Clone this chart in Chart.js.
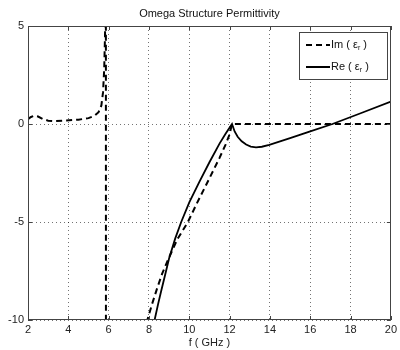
<!DOCTYPE html>
<html>
<head>
<meta charset="utf-8">
<script src="https://cdn.jsdelivr.net/npm/chart.js@4/dist/chart.umd.min.js"></script>
<style>
html,body{margin:0;padding:0;background:#fff;}
canvas{display:block;}
</style>
</head>
<body>
<canvas id="c" width="400" height="350"></canvas>
<script>
// ---- data ----
const chartTitle = "Omega Structure Permittivity";
const xAxisTitle = "f ( GHz )";
const xTicks = [2, 4, 6, 8, 10, 12, 14, 16, 18, 20];
const yTicks = [-10, -5, 0, 5];

const imFreq   = [2.0, 2.15, 2.3, 2.5, 2.75, 3.0, 3.3, 3.9, 4.5, 5.0, 5.3, 5.5, 5.64, 5.72, 5.78, 5.82, 5.85, 5.86, 5.87, 7.6, 7.92, 8.15, 8.4, 8.65, 8.94, 9.4, 9.93, 10.4, 10.84, 11.5, 11.8, 11.99, 12.12, 14, 16, 18, 20];
const imValues = [0.25, 0.36, 0.42, 0.38, 0.25, 0.17, 0.15, 0.18, 0.22, 0.3, 0.42, 0.6, 0.95, 1.6, 2.8, 4.5, 8, 30, -40, -12, -10, -9.2, -8.4, -7.65, -6.94, -5.9, -5.0, -4.0, -3.1, -1.73, -1.05, -0.55, 0, 0, 0, 0, 0];

const reFreq   = [8.1, 8.28, 8.45, 8.6, 8.8, 9.0, 9.3, 9.6, 10.0, 10.5, 11.0, 11.5, 11.8, 12.12, 12.25, 12.4, 12.6, 12.82, 13.05, 13.31, 13.6, 13.97, 15.0, 16.0, 17.1, 18.5, 20];
const reValues = [-11, -10, -9.2, -8.55, -7.7, -6.85, -5.85, -5.0, -4.0, -2.95, -1.95, -1.0, -0.5, 0, -0.38, -0.65, -0.88, -1.05, -1.15, -1.19, -1.16, -1.07, -0.72, -0.38, 0, 0.55, 1.14];

const imLabel = ["Im ( ", "\u03B5", "r", " )"];
const reLabel = ["Re ( ", "\u03B5", "r", " )"];

const toPts = (xs, ys) => xs.map((x, i) => ({x: x, y: ys[i]}));

const FONT = "'Liberation Sans', Arial, sans-serif";

const framePlugin = {
  id: 'frame',
  afterDatasetsDraw(chart) {
    const {ctx, chartArea: a, scales} = chart;
    ctx.save();
    ctx.strokeStyle = '#444';
    ctx.lineWidth = 1;
    ctx.setLineDash([]);
    ctx.strokeRect(Math.round(a.left) + 0.5, Math.round(a.top) + 0.5,
                   Math.round(a.right - a.left) - 1, Math.round(a.bottom - a.top) - 1);
    ctx.beginPath();
    xTicks.forEach(v => {
      const px = Math.round(scales.x.getPixelForValue(v)) + 0.5;
      ctx.moveTo(px, a.bottom); ctx.lineTo(px, a.bottom - 4);
      ctx.moveTo(px, a.top); ctx.lineTo(px, a.top + 4);
    });
    yTicks.forEach(v => {
      const py = Math.round(scales.y.getPixelForValue(v)) + 0.5;
      ctx.moveTo(a.left, py); ctx.lineTo(a.left + 4, py);
      ctx.moveTo(a.right, py); ctx.lineTo(a.right - 4, py);
    });
    ctx.stroke();

    ctx.fillStyle = '#111';
    ctx.font = '11px ' + FONT;
    ctx.textAlign = 'center';
    ctx.textBaseline = 'middle';
    ctx.fillText(chartTitle, (a.left + a.right) / 2, 14);

    const lx = 299, ly = 32, lw = 89, lh = 48;
    ctx.fillStyle = '#fff';
    ctx.fillRect(lx, ly, lw, lh);
    ctx.strokeStyle = '#444';
    ctx.strokeRect(lx + 0.5, ly + 0.5, lw - 1, lh - 1);
    const rows = [
      {label: imLabel, dash: [6, 4], y: ly + 13},
      {label: reLabel, dash: [], y: ly + 35}
    ];
    rows.forEach(r => {
      ctx.strokeStyle = '#000';
      ctx.lineWidth = 2;
      ctx.setLineDash(r.dash);
      ctx.beginPath();
      ctx.moveTo(306, r.y); ctx.lineTo(330, r.y);
      ctx.stroke();
      ctx.setLineDash([]);
      ctx.fillStyle = '#111';
      ctx.textAlign = 'left';
      ctx.textBaseline = 'middle';
      let tx = 331;
      ctx.font = '11px ' + FONT;
      ctx.fillText(r.label[0], tx, r.y); tx += ctx.measureText(r.label[0]).width;
      ctx.fillText(r.label[1], tx, r.y); tx += ctx.measureText(r.label[1]).width;
      ctx.font = '7px ' + FONT;
      ctx.fillText(r.label[2], tx, r.y + 3); tx += ctx.measureText(r.label[2]).width;
      ctx.font = '11px ' + FONT;
      ctx.fillText(r.label[3], tx, r.y);
    });
    ctx.restore();
  }
};

new Chart(document.getElementById('c'), {
  type: 'line',
  data: {
    datasets: [
      {
        label: 'Im',
        data: toPts(imFreq, imValues),
        borderColor: '#000',
        borderWidth: 2,
        borderDash: [6, 4],
        pointRadius: 0,
        fill: false,
        tension: 0
      },
      {
        label: 'Re',
        data: toPts(reFreq, reValues),
        borderColor: '#000',
        borderWidth: 1.8,
        pointRadius: 0,
        fill: false,
        tension: 0
      }
    ]
  },
  options: {
    responsive: false,
    animation: false,
    devicePixelRatio: 1,
    layout: {padding: {top: 26, right: 8, left: 0, bottom: 0}},
    plugins: {legend: {display: false}, title: {display: false}, tooltip: {enabled: false}},
    scales: {
      x: {
        type: 'linear', min: 2, max: 20,
        afterFit(s) { s.height = 30; },
        afterBuildTicks(s) { s.ticks = xTicks.map(v => ({value: v})); },
        grid: {color: 'rgba(0,0,0,0.55)', drawTicks: false, lineWidth: 1},
        border: {display: false, dash: [1, 3]},
        ticks: {color: '#222', font: {family: FONT, size: 11}, padding: 3, maxRotation: 0},
        title: {display: true, text: xAxisTitle, color: '#222', font: {family: FONT, size: 11}, padding: 0}
      },
      y: {
        type: 'linear', min: -10, max: 5,
        afterFit(s) { s.width = 28; },
        afterBuildTicks(s) { s.ticks = yTicks.map(v => ({value: v})); },
        grid: {color: 'rgba(0,0,0,0.55)', drawTicks: false, lineWidth: 1},
        border: {display: false, dash: [1, 3]},
        ticks: {color: '#222', font: {family: FONT, size: 11}, padding: 4}
      }
    }
  },
  plugins: [framePlugin]
});
</script>
</body>
</html>
